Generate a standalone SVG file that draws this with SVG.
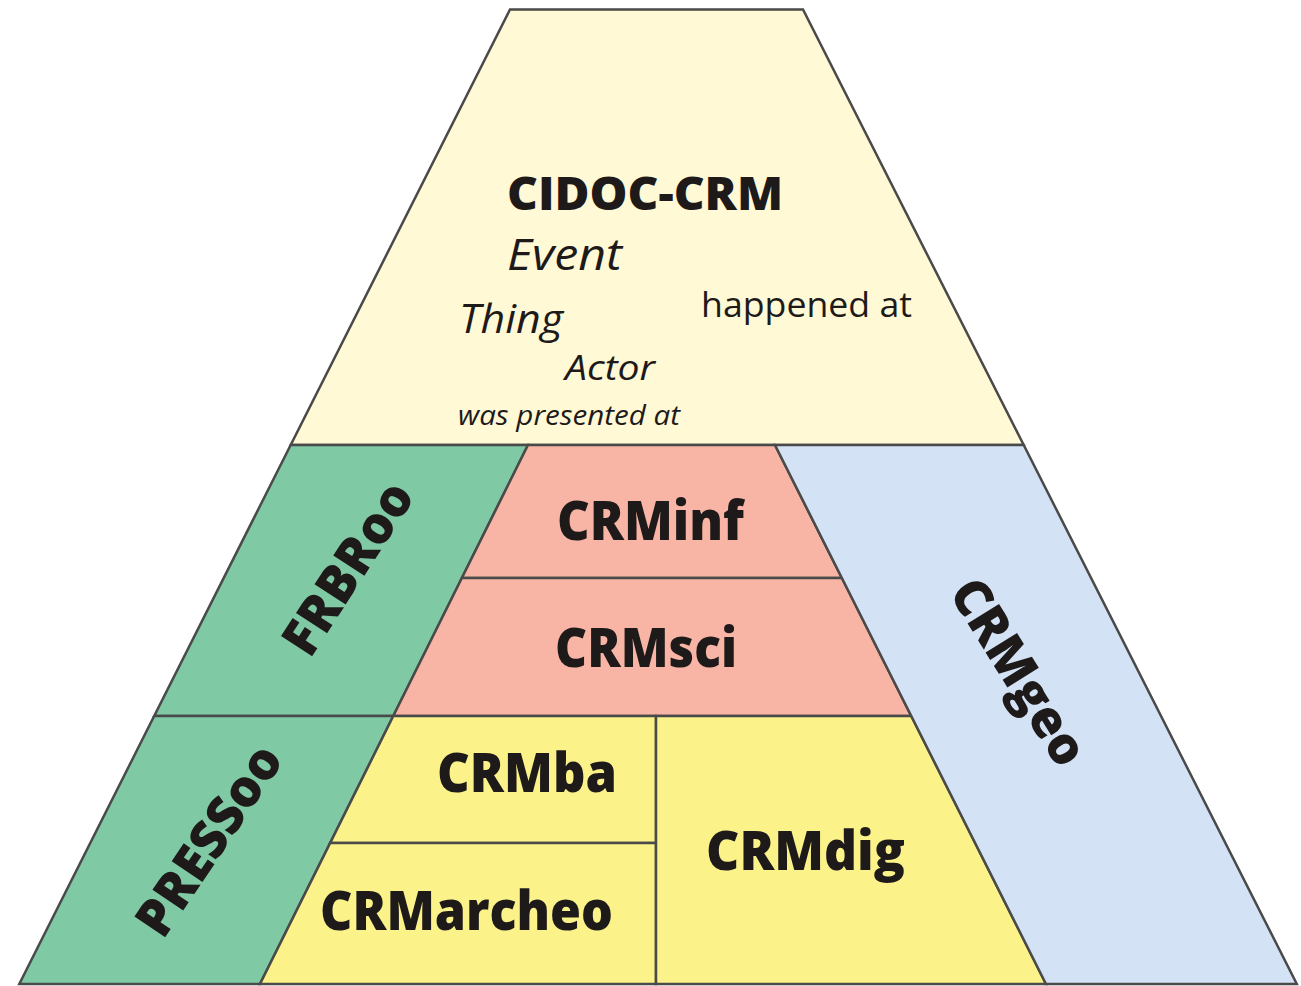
<svg xmlns="http://www.w3.org/2000/svg" width="1301" height="986" viewBox="0 0 1301 986">
<style>
.s{stroke:#4a4a4a;stroke-width:2.5;stroke-linejoin:miter}
.cream{fill:#FFF9D5}.green{fill:#80C9A5}.salmon{fill:#F8B5A5}.blue{fill:#D3E3F5}.yellow{fill:#FBF38A}
text{font-family:"Open Sans","Noto Sans","Liberation Sans",sans-serif;fill:#1e1a1a}
.b{font-weight:800}
.i{font-style:italic}
</style>
<rect width="1301" height="986" fill="#ffffff"/>
<g id="cidoc-crm">
<polygon class="s cream" points="510,9.5 803,9.5 1023.7,445 290.7,445"/>
<text class="b" x="507" y="210" font-size="46" textLength="276" lengthAdjust="spacingAndGlyphs">CIDOC-CRM</text>
<text class="i" x="507" y="270" font-size="44" textLength="115" lengthAdjust="spacingAndGlyphs">Event</text>
<text class="i" x="459" y="333" font-size="41" textLength="104" lengthAdjust="spacingAndGlyphs">Thing</text>
<text x="701" y="317" font-size="35" textLength="211" lengthAdjust="spacingAndGlyphs">happened at</text>
<text class="i" x="565" y="380" font-size="35" textLength="90" lengthAdjust="spacingAndGlyphs">Actor</text>
<text class="i" x="458" y="425" font-size="27" textLength="222" lengthAdjust="spacingAndGlyphs">was presented at</text>
</g>
<g id="frbroo">
<polygon class="s green" points="290.7,445 528,445 393.3,716 154.2,716"/>
<text class="b" transform="translate(348,568) rotate(-57)" x="0" y="18" text-anchor="middle" font-size="52" textLength="195" lengthAdjust="spacingAndGlyphs">FRBRoo</text>
</g>
<g id="pressoo">
<polygon class="s green" points="154.2,716 393.3,716 260,984 19.3,984"/>
<text class="b" transform="translate(209,840) rotate(-56)" x="0" y="18" text-anchor="middle" font-size="52" textLength="218" lengthAdjust="spacingAndGlyphs">PRESSoo</text>
</g>
<g id="crminf">
<polygon class="s salmon" points="528,445 775,445 841.9,578 461.9,578"/>
<text class="b" x="557" y="540" font-size="54" textLength="187" lengthAdjust="spacingAndGlyphs">CRMinf</text>
</g>
<g id="crmsci">
<polygon class="s salmon" points="461.9,578 841.9,578 911.3,716 393.3,716"/>
<text class="b" x="555" y="667" font-size="54" textLength="182" lengthAdjust="spacingAndGlyphs">CRMsci</text>
</g>
<g id="crmba">
<polygon class="s yellow" points="393.3,716 656,716 656,843 330.2,843"/>
<text class="b" x="437" y="792" font-size="54" textLength="180" lengthAdjust="spacingAndGlyphs">CRMba</text>
</g>
<g id="crmarcheo">
<polygon class="s yellow" points="330.2,843 656,843 656,984 260,984"/>
<text class="b" x="320" y="930" font-size="54" textLength="293" lengthAdjust="spacingAndGlyphs">CRMarcheo</text>
</g>
<g id="crmdig">
<polygon class="s yellow" points="656,716 911.3,716 1046,984 656,984"/>
<text class="b" x="706" y="870" font-size="54" textLength="199" lengthAdjust="spacingAndGlyphs">CRMdig</text>
</g>
<g id="crmgeo">
<polygon class="s blue" points="775,445 1023.7,445 1296.8,984 1046,984"/>
<text class="b" transform="translate(1019,672) rotate(58)" x="0" y="18" text-anchor="middle" font-size="52" textLength="210" lengthAdjust="spacingAndGlyphs">CRMgeo</text>
</g>
<g id="connectors"></g>
</svg>
